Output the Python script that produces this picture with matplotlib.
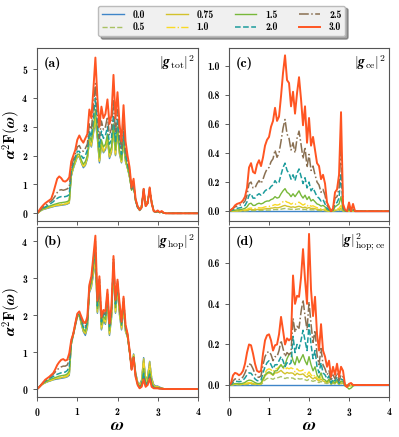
import numpy as np
import matplotlib
matplotlib.use("Agg")
import matplotlib.pyplot as plt

plt.rcParams["font.family"] = ["cmb10", "DejaVu Serif"]
plt.rcParams["mathtext.fontset"] = "cm"
plt.rcParams["axes.unicode_minus"] = False
plt.rcParams["axes.formatter.use_mathtext"] = True

# frequency grid (0 .. 3.25 step 0.05, then 4.0)
omega = [round(0.05 * i, 2) for i in range(66)] + [4.0]

lambdas = ["0.0", "0.5", "0.75", "1.0", "1.5", "2.0", "2.5", "3.0"]

# ---- (a) |g_tot|^2 ----
tot_00 = [0, 0.05, 0.1, 0.13, 0.15, 0.17, 0.19, 0.21, 0.23, 0.25, 0.26,
          0.27, 0.28, 0.29, 0.3, 0.32, 0.36, 1.28, 1.55, 1.75, 1.95, 1.96,
          1.75, 1.58, 1.66, 1.88, 2.5, 2.3, 2.75, 3.2, 2.58, 1.75, 2.35,
          2.1, 2.2, 2.55, 1.9, 2.1, 2.9, 2.0, 2.8, 2.05, 1.75, 2.45,
          1.78, 1.55, 1.25, 0.85, 0.97, 0.48, 0.25, 0.15, 0.28, 0.76, 0.34,
          0.44, 0.74, 0.42, 0.1, 0.05, 0.06, 0.03, 0.04, 0.01, 0, 0, 0]
tot_05 = [0, 0.05, 0.1, 0.13, 0.16, 0.18, 0.2, 0.22, 0.24, 0.26, 0.27,
          0.28, 0.29, 0.3, 0.31, 0.33, 0.37, 1.3, 1.56, 1.76, 1.96, 1.97,
          1.76, 1.6, 1.68, 1.9, 2.52, 2.32, 2.8, 3.25, 2.6, 1.78, 2.38,
          2.12, 2.22, 2.58, 1.92, 2.12, 2.92, 2.02, 2.82, 2.08, 1.76, 2.48,
          1.8, 1.55, 1.25, 0.83, 0.96, 0.47, 0.24, 0.14, 0.27, 0.77, 0.33,
          0.43, 0.75, 0.41, 0.1, 0.05, 0.06, 0.03, 0.04, 0.01, 0, 0, 0]
tot_075 = [0, 0.05, 0.1, 0.14, 0.17, 0.19, 0.21, 0.23, 0.25, 0.27, 0.28,
           0.29, 0.3, 0.31, 0.32, 0.34, 0.38, 1.32, 1.58, 1.78, 1.98, 1.98,
           1.78, 1.62, 1.7, 1.92, 2.55, 2.35, 2.85, 3.3, 2.65, 1.8, 2.4,
           2.15, 2.25, 2.6, 1.95, 2.15, 2.95, 2.05, 2.85, 2.1, 1.78, 2.5,
           1.82, 1.56, 1.26, 0.82, 0.95, 0.46, 0.23, 0.13, 0.26, 0.78, 0.32,
           0.42, 0.76, 0.4, 0.09, 0.04, 0.06, 0.03, 0.04, 0.01, 0, 0, 0]
tot_10 = [0, 0.05, 0.11, 0.15, 0.18, 0.2, 0.22, 0.24, 0.26, 0.28, 0.3,
          0.31, 0.32, 0.33, 0.34, 0.36, 0.4, 1.35, 1.6, 1.8, 2.0, 2.0,
          1.8, 1.65, 1.72, 1.95, 2.6, 2.4, 2.9, 3.4, 2.7, 1.85, 2.45,
          2.2, 2.3, 2.65, 2.0, 2.2, 3.0, 2.1, 2.9, 2.15, 1.8, 2.55,
          1.85, 1.58, 1.28, 0.82, 0.95, 0.45, 0.22, 0.12, 0.25, 0.8, 0.3,
          0.4, 0.78, 0.38, 0.08, 0.04, 0.06, 0.03, 0.04, 0.01, 0, 0, 0]
tot_15 = [0, 0.06, 0.12, 0.16, 0.19, 0.22, 0.25, 0.27, 0.3, 0.32, 0.34,
          0.36, 0.37, 0.38, 0.39, 0.41, 0.45, 1.4, 1.65, 1.85, 2.05, 2.05,
          1.85, 1.7, 1.8, 2.0, 2.7, 2.5, 3.0, 3.6, 2.8, 1.95, 2.55,
          2.3, 2.4, 2.75, 2.1, 2.3, 3.1, 2.2, 3.0, 2.2, 1.85, 2.6,
          1.9, 1.6, 1.3, 0.8, 0.95, 0.42, 0.2, 0.1, 0.2, 0.82, 0.25,
          0.35, 0.8, 0.35, 0.07, 0.04, 0.06, 0.03, 0.04, 0.01, 0, 0, 0]
tot_20 = [0, 0.07, 0.13, 0.18, 0.22, 0.26, 0.3, 0.35, 0.4, 0.47, 0.52,
          0.56, 0.58, 0.57, 0.58, 0.6, 0.65, 1.5, 1.75, 1.95, 2.15, 2.15,
          2.0, 1.9, 2.0, 2.2, 2.85, 2.65, 3.3, 4.0, 3.1, 2.3, 2.85,
          2.6, 2.7, 3.0, 2.4, 2.6, 3.4, 2.5, 3.3, 2.45, 2.05, 2.8,
          2.05, 1.7, 1.4, 0.85, 1.0, 0.45, 0.2, 0.1, 0.2, 0.85, 0.25,
          0.35, 0.85, 0.35, 0.07, 0.04, 0.07, 0.03, 0.05, 0.02, 0, 0, 0]
tot_25 = [0, 0.08, 0.15, 0.22, 0.27, 0.32, 0.38, 0.42, 0.5, 0.6, 0.72,
          0.8, 0.82, 0.8, 0.82, 0.85, 0.9, 1.6, 1.85, 2.05, 2.3, 2.35,
          2.2, 2.15, 2.25, 2.4, 3.1, 2.9, 3.7, 4.5, 3.4, 2.6, 3.2,
          2.9, 3.0, 3.35, 2.7, 2.95, 3.9, 2.8, 3.6, 2.7, 2.2, 3.1,
          2.2, 1.8, 1.5, 0.85, 1.05, 0.45, 0.22, 0.1, 0.2, 0.85, 0.25,
          0.35, 0.88, 0.35, 0.07, 0.04, 0.08, 0.03, 0.06, 0.02, 0, 0, 0]
tot_30 = [0, 0.1, 0.2, 0.28, 0.35, 0.4, 0.45, 0.5, 0.7, 0.95, 1.2,
          1.28, 1.22, 1.12, 1.1, 1.15, 1.25, 1.8, 2.0, 2.2, 2.55, 2.7,
          2.55, 2.45, 2.6, 2.75, 3.6, 3.3, 4.3, 5.4, 4.0, 3.0, 3.7,
          3.3, 3.45, 3.95, 3.1, 3.4, 4.8, 3.3, 4.2, 3.1, 2.5, 3.75,
          2.5, 2.0, 1.6, 0.9, 1.2, 0.5, 0.25, 0.12, 0.2, 0.85, 0.25,
          0.35, 0.9, 0.35, 0.08, 0.05, 0.1, 0.04, 0.08, 0.02, 0, 0, 0]

# ---- (b) |g_hop|^2 ----
hop_00 = [0, 0.05, 0.1, 0.14, 0.17, 0.19, 0.21, 0.23, 0.25, 0.26, 0.27,
          0.28, 0.29, 0.3, 0.31, 0.33, 0.37, 1.2, 1.45, 1.7, 1.95, 1.98,
          1.75, 1.55, 1.45, 1.65, 2.6, 2.75, 3.1, 3.45, 2.05, 2.7, 1.6,
          1.85, 1.75, 2.35, 1.45, 1.9, 3.2, 2.05, 2.7, 2.0, 1.6, 2.2,
          1.55, 1.4, 1.0, 0.6, 0.95, 0.45, 0.2, 0.12, 0.25, 0.85, 0.25,
          0.35, 0.75, 0.3, 0.12, 0.08, 0.08, 0.05, 0.03, 0.01, 0, 0, 0]
hop_05 = [0, 0.05, 0.1, 0.14, 0.17, 0.19, 0.21, 0.23, 0.25, 0.27, 0.28,
          0.29, 0.3, 0.31, 0.32, 0.34, 0.38, 1.21, 1.46, 1.71, 1.95, 1.99,
          1.76, 1.56, 1.47, 1.67, 2.62, 2.77, 3.12, 3.5, 2.07, 2.72, 1.62,
          1.87, 1.77, 2.37, 1.47, 1.92, 3.22, 2.07, 2.72, 2.02, 1.62, 2.22,
          1.56, 1.4, 1.0, 0.6, 0.94, 0.44, 0.19, 0.11, 0.24, 0.83, 0.24,
          0.34, 0.74, 0.29, 0.11, 0.07, 0.07, 0.05, 0.03, 0.01, 0, 0, 0]
hop_075 = [0, 0.05, 0.1, 0.14, 0.17, 0.2, 0.22, 0.24, 0.26, 0.28, 0.29,
           0.3, 0.31, 0.32, 0.33, 0.35, 0.4, 1.22, 1.47, 1.72, 1.96, 2.0,
           1.77, 1.58, 1.5, 1.7, 2.64, 2.8, 3.15, 3.55, 2.1, 2.75, 1.65,
           1.9, 1.8, 2.4, 1.5, 1.95, 3.25, 2.1, 2.75, 2.05, 1.65, 2.25,
           1.58, 1.4, 1.0, 0.58, 0.92, 0.42, 0.18, 0.1, 0.22, 0.8, 0.22,
           0.32, 0.72, 0.27, 0.1, 0.06, 0.06, 0.04, 0.02, 0.01, 0, 0, 0]
hop_10 = [0, 0.05, 0.11, 0.15, 0.18, 0.21, 0.23, 0.25, 0.27, 0.29, 0.31,
          0.32, 0.33, 0.34, 0.35, 0.37, 0.43, 1.23, 1.47, 1.73, 1.97, 2.01,
          1.78, 1.6, 1.52, 1.73, 2.66, 2.83, 3.2, 3.6, 2.12, 2.78, 1.68,
          1.93, 1.83, 2.43, 1.53, 1.98, 3.3, 2.13, 2.78, 2.08, 1.68, 2.28,
          1.6, 1.4, 1.0, 0.56, 0.9, 0.4, 0.17, 0.08, 0.18, 0.7, 0.18,
          0.28, 0.62, 0.22, 0.08, 0.05, 0.05, 0.03, 0.02, 0.01, 0, 0, 0]
hop_15 = [0, 0.05, 0.11, 0.16, 0.19, 0.22, 0.25, 0.27, 0.29, 0.31, 0.33,
          0.35, 0.36, 0.37, 0.38, 0.41, 0.48, 1.25, 1.48, 1.74, 1.98, 2.03,
          1.8, 1.63, 1.56, 1.77, 2.7, 2.88, 3.3, 3.7, 2.17, 2.83, 1.74,
          1.98, 1.88, 2.48, 1.58, 2.03, 3.35, 2.2, 2.82, 2.14, 1.72, 2.33,
          1.63, 1.42, 1.02, 0.55, 0.88, 0.38, 0.15, 0.06, 0.14, 0.55, 0.14,
          0.22, 0.5, 0.17, 0.06, 0.04, 0.04, 0.02, 0.01, 0.0, 0, 0, 0]
hop_20 = [0, 0.05, 0.12, 0.17, 0.21, 0.25, 0.28, 0.31, 0.34, 0.37, 0.4,
          0.42, 0.44, 0.45, 0.46, 0.5, 0.6, 1.27, 1.49, 1.75, 2.0, 2.05,
          1.85, 1.68, 1.62, 1.82, 2.74, 2.94, 3.4, 3.85, 2.25, 2.9, 1.82,
          2.04, 1.96, 2.56, 1.66, 2.1, 3.45, 2.3, 2.88, 2.22, 1.76, 2.4,
          1.68, 1.46, 1.04, 0.54, 0.86, 0.36, 0.13, 0.04, 0.1, 0.42, 0.1,
          0.17, 0.4, 0.12, 0.04, 0.03, 0.03, 0.02, 0.01, 0.0, 0, 0, 0]
hop_25 = [0, 0.05, 0.12, 0.18, 0.23, 0.27, 0.31, 0.35, 0.4, 0.46, 0.52,
          0.57, 0.6, 0.62, 0.62, 0.65, 0.78, 1.3, 1.5, 1.77, 2.02, 2.08,
          1.9, 1.75, 1.7, 1.88, 2.78, 3.0, 3.5, 4.0, 2.32, 2.97, 1.88,
          2.08, 2.03, 2.62, 1.72, 2.17, 3.52, 2.36, 2.92, 2.28, 1.8, 2.45,
          1.71, 1.48, 1.05, 0.53, 0.86, 0.34, 0.12, 0.03, 0.08, 0.33, 0.08,
          0.14, 0.33, 0.09, 0.03, 0.02, 0.02, 0.01, 0.01, 0.0, 0, 0, 0]
hop_30 = [0, 0.05, 0.11, 0.18, 0.25, 0.29, 0.33, 0.38, 0.43, 0.53, 0.65,
          0.73, 0.79, 0.81, 0.77, 0.79, 0.97, 1.33, 1.5, 1.78, 2.04, 2.1,
          1.96, 1.83, 1.78, 1.96, 2.82, 3.05, 3.6, 4.15, 2.4, 3.05, 1.96,
          2.14, 2.1, 2.69, 1.78, 2.24, 3.6, 2.42, 2.96, 2.33, 1.83, 2.5,
          1.74, 1.5, 1.06, 0.52, 0.85, 0.33, 0.11, 0.02, 0.06, 0.25, 0.06,
          0.11, 0.28, 0.06, 0.02, 0.02, 0.02, 0.01, 0.01, 0, 0, 0, 0]

# ---- (c) |g_ce|^2 ----
ce_00 = [0.0] * 67
ce_05 = [0, 0.0, 0.001, 0.001, 0.001, 0.001, 0.002, 0.002, 0.002, 0.003, 0.005,
         0.005, 0.004, 0.004, 0.005, 0.006, 0.005, 0.006, 0.007, 0.008, 0.008, 0.009,
         0.01, 0.012, 0.011, 0.012, 0.014, 0.017, 0.019, 0.016, 0.015, 0.013, 0.014,
         0.012, 0.014, 0.016, 0.013, 0.011, 0.013, 0.009, 0.012, 0.009, 0.01, 0.008,
         0.006, 0.005, 0.004, 0.005, 0.003, 0.001, 0.0, 0.0, 0.0, 0.003, 0.004,
         0.005, 0.01, 0.001, 0.0, 0.0, 0.001, 0.0, 0.001, 0.0, 0, 0, 0]
ce_075 = [0, 0.001, 0.001, 0.002, 0.002, 0.003, 0.003, 0.004, 0.005, 0.007, 0.011,
          0.012, 0.01, 0.01, 0.012, 0.013, 0.012, 0.014, 0.016, 0.018, 0.018, 0.021,
          0.022, 0.026, 0.023, 0.025, 0.03, 0.036, 0.04, 0.034, 0.032, 0.027, 0.03,
          0.026, 0.031, 0.034, 0.029, 0.023, 0.028, 0.02, 0.025, 0.019, 0.02, 0.017,
          0.013, 0.012, 0.009, 0.01, 0.007, 0.003, 0.001, 0.0, 0.001, 0.007, 0.008,
          0.011, 0.022, 0.003, 0.0, 0.0, 0.002, 0.0, 0.002, 0.0, 0, 0, 0]
ce_10 = [0, 0.001, 0.002, 0.003, 0.004, 0.005, 0.006, 0.007, 0.009, 0.013, 0.02,
         0.022, 0.018, 0.018, 0.022, 0.024, 0.022, 0.025, 0.03, 0.032, 0.033, 0.038,
         0.04, 0.046, 0.042, 0.045, 0.055, 0.065, 0.072, 0.062, 0.058, 0.048, 0.055,
         0.047, 0.056, 0.062, 0.052, 0.042, 0.05, 0.036, 0.045, 0.034, 0.037, 0.03,
         0.024, 0.022, 0.016, 0.018, 0.013, 0.005, 0.002, 0.0, 0.002, 0.012, 0.015,
         0.02, 0.04, 0.005, 0.0, 0.0, 0.004, 0.0, 0.004, 0.0, 0, 0, 0]
ce_15 = [0, 0.002, 0.005, 0.007, 0.009, 0.01, 0.012, 0.015, 0.02, 0.03, 0.05,
         0.055, 0.04, 0.04, 0.05, 0.055, 0.05, 0.055, 0.065, 0.07, 0.07, 0.08,
         0.085, 0.1, 0.09, 0.095, 0.12, 0.14, 0.155, 0.13, 0.12, 0.1, 0.12,
         0.1, 0.12, 0.14, 0.11, 0.09, 0.11, 0.08, 0.1, 0.07, 0.08, 0.065,
         0.05, 0.045, 0.035, 0.04, 0.03, 0.01, 0.005, 0.0, 0.005, 0.03, 0.04,
         0.05, 0.1, 0.01, 0.0, 0.0, 0.01, 0.0, 0.01, 0.0, 0, 0, 0]
ce_20 = [0, 0.005, 0.01, 0.015, 0.02, 0.022, 0.025, 0.03, 0.04, 0.065, 0.11,
         0.12, 0.09, 0.09, 0.11, 0.12, 0.11, 0.12, 0.14, 0.15, 0.15, 0.17,
         0.18, 0.21, 0.19, 0.2, 0.25, 0.3, 0.33, 0.28, 0.26, 0.22, 0.25,
         0.21, 0.26, 0.29, 0.24, 0.19, 0.23, 0.16, 0.2, 0.14, 0.16, 0.13,
         0.1, 0.09, 0.07, 0.08, 0.05, 0.02, 0.01, 0.0, 0.01, 0.05, 0.06,
         0.09, 0.26, 0.02, 0.005, 0.0, 0.02, 0.0, 0.015, 0.0, 0, 0, 0]
ce_25 = [0, 0.01, 0.02, 0.03, 0.035, 0.04, 0.045, 0.055, 0.07, 0.11, 0.19,
         0.2, 0.16, 0.16, 0.19, 0.21, 0.19, 0.22, 0.26, 0.29, 0.3, 0.34,
         0.36, 0.42, 0.37, 0.4, 0.48, 0.57, 0.63, 0.53, 0.5, 0.42, 0.47,
         0.4, 0.5, 0.55, 0.46, 0.36, 0.44, 0.3, 0.39, 0.28, 0.31, 0.25,
         0.2, 0.18, 0.13, 0.15, 0.11, 0.04, 0.02, 0.0, 0.015, 0.09, 0.1,
         0.16, 0.45, 0.03, 0.01, 0.0, 0.04, 0.0, 0.03, 0.0, 0, 0, 0]
ce_30 = [0, 0.01, 0.02, 0.04, 0.05, 0.055, 0.06, 0.075, 0.1, 0.16, 0.3,
         0.33, 0.27, 0.26, 0.32, 0.35, 0.31, 0.37, 0.45, 0.49, 0.51, 0.58,
         0.62, 0.71, 0.62, 0.65, 0.79, 0.95, 1.07, 0.9, 0.88, 0.72, 0.82,
         0.67, 0.81, 0.92, 0.77, 0.59, 0.72, 0.47, 0.64, 0.45, 0.51, 0.42,
         0.33, 0.31, 0.22, 0.25, 0.19, 0.06, 0.03, 0.0, 0.02, 0.13, 0.15,
         0.25, 0.68, 0.05, 0.01, 0.0, 0.06, 0.0, 0.05, 0.0, 0, 0, 0]

# ---- (d) |g|^2_hop;ce ----
hc_00 = [0.0] * 67
hc_05 = [0, 0.0, 0.001, 0.001, 0.001, 0.001, 0.001, 0.002, 0.002, 0.003, 0.004,
         0.004, 0.003, 0.002, 0.002, 0.002, 0.003, 0.012, 0.025, 0.032, 0.035, 0.032,
         0.028, 0.035, 0.035, 0.038, 0.042, 0.036, 0.032, 0.036, 0.034, 0.035, 0.034,
         0.028, 0.034, 0.03, 0.03, 0.032, 0.026, 0.022, 0.028, 0.022, 0.018, 0.022,
         0.016, 0.012, 0.018, 0.012, 0.01, 0.007, 0.012, 0.004, 0.009, 0.005, 0.009,
         0.004, 0.007, 0.005, 0.0, -0.001, -0.002, -0.001, 0.0, 0.0, 0, 0, 0]
hc_075 = [0, 0.0, 0.002, 0.003, 0.003, 0.003, 0.003, 0.004, 0.005, 0.007, 0.008,
          0.008, 0.007, 0.005, 0.004, 0.004, 0.006, 0.022, 0.045, 0.055, 0.06, 0.055,
          0.048, 0.06, 0.06, 0.065, 0.072, 0.062, 0.055, 0.062, 0.058, 0.06, 0.058,
          0.048, 0.058, 0.052, 0.052, 0.055, 0.045, 0.038, 0.048, 0.038, 0.03, 0.038,
          0.027, 0.02, 0.03, 0.02, 0.016, 0.012, 0.02, 0.006, 0.015, 0.008, 0.015,
          0.006, 0.012, 0.008, 0.0, -0.002, -0.003, -0.002, 0.0, 0.0, 0, 0, 0]
hc_10 = [0, 0.001, 0.003, 0.004, 0.004, 0.004, 0.004, 0.005, 0.007, 0.01, 0.012,
         0.012, 0.01, 0.007, 0.005, 0.005, 0.008, 0.03, 0.06, 0.075, 0.08, 0.075,
         0.065, 0.08, 0.08, 0.09, 0.1, 0.085, 0.075, 0.085, 0.08, 0.085, 0.08,
         0.065, 0.08, 0.07, 0.07, 0.075, 0.06, 0.05, 0.065, 0.05, 0.04, 0.05,
         0.035, 0.025, 0.04, 0.025, 0.02, 0.015, 0.025, 0.008, 0.02, 0.01, 0.02,
         0.008, 0.015, 0.01, 0.0, -0.003, -0.005, -0.003, 0.0, 0.0, 0, 0, 0]
hc_15 = [0, 0.001, 0.005, 0.007, 0.007, 0.006, 0.007, 0.009, 0.013, 0.02, 0.024,
         0.023, 0.018, 0.012, 0.008, 0.007, 0.01, 0.03, 0.05, 0.06, 0.065, 0.06,
         0.05, 0.07, 0.07, 0.085, 0.1, 0.085, 0.1, 0.13, 0.15, 0.16, 0.12,
         0.1, 0.14, 0.11, 0.13, 0.15, 0.12, 0.1, 0.14, 0.1, 0.07, 0.09,
         0.05, 0.035, 0.06, 0.03, 0.025, 0.015, 0.03, 0.005, 0.02, 0.01, 0.025,
         0.005, 0.02, 0.015, -0.005, -0.01, -0.02, -0.015, -0.005, 0.0, 0, 0, 0]
hc_20 = [0, 0.003, 0.012, 0.018, 0.018, 0.016, 0.018, 0.024, 0.035, 0.05, 0.06,
         0.058, 0.045, 0.03, 0.022, 0.02, 0.025, 0.06, 0.09, 0.11, 0.12, 0.1,
         0.08, 0.1, 0.1, 0.12, 0.14, 0.12, 0.09, 0.11, 0.1, 0.11, 0.24,
         0.16, 0.2, 0.18, 0.22, 0.27, 0.22, 0.17, 0.3, 0.2, 0.13, 0.17,
         0.09, 0.06, 0.11, 0.06, 0.05, 0.03, 0.045, 0.01, 0.03, 0.02, 0.04,
         0.01, 0.03, 0.025, 0.0, -0.005, 0.0, 0.003, 0.0, 0.0, 0, 0, 0]
hc_25 = [0, 0.005, 0.02, 0.03, 0.03, 0.027, 0.03, 0.04, 0.06, 0.085, 0.105,
         0.1, 0.08, 0.055, 0.04, 0.038, 0.045, 0.1, 0.14, 0.16, 0.165, 0.15,
         0.12, 0.14, 0.14, 0.17, 0.22, 0.18, 0.14, 0.16, 0.15, 0.16, 0.33,
         0.26, 0.29, 0.28, 0.36, 0.42, 0.34, 0.27, 0.41, 0.3, 0.21, 0.27,
         0.15, 0.1, 0.18, 0.1, 0.08, 0.05, 0.07, 0.02, 0.05, 0.03, 0.06,
         0.02, 0.05, 0.04, 0.0, -0.005, 0.003, 0.005, 0.0, 0.0, 0, 0, 0]
hc_30 = [0, 0.01, 0.048, 0.06, 0.056, 0.048, 0.055, 0.07, 0.105, 0.16, 0.2,
         0.196, 0.155, 0.105, 0.07, 0.064, 0.07, 0.155, 0.22, 0.245, 0.25, 0.22,
         0.17, 0.196, 0.2, 0.25, 0.336, 0.27, 0.2, 0.23, 0.22, 0.23, 0.54,
         0.4, 0.44, 0.435, 0.53, 0.67, 0.52, 0.4, 0.745, 0.47, 0.34, 0.435,
         0.25, 0.17, 0.3, 0.17, 0.14, 0.09, 0.12, 0.04, 0.09, 0.05, 0.105,
         0.04, 0.09, 0.07, 0.0, -0.01, 0.006, 0.01, 0.0, 0.0, 0, 0, 0]

panels = [
    [tot_00, tot_05, tot_075, tot_10, tot_15, tot_20, tot_25, tot_30],
    [ce_00, ce_05, ce_075, ce_10, ce_15, ce_20, ce_25, ce_30],
    [hop_00, hop_05, hop_075, hop_10, hop_15, hop_20, hop_25, hop_30],
    [hc_00, hc_05, hc_075, hc_10, hc_15, hc_20, hc_25, hc_30],
]

colors = ["#3f85c8", "#a9c264", "#d2c22c", "#f9d925",
          "#78b83a", "#1c9c9c", "#8a7052", "#ff5522"]
styles = ["-", "--", "-", "-.", "-", "--", "-.", "-"]
widths = [1.0, 1.0, 1.0, 1.0, 1.0, 1.1, 1.1, 1.4]

tags = ["(a)", "(c)", "(b)", "(d)"]
names = [r"$|\boldsymbol{g}_{\rm tot}|^2$", r"$|\boldsymbol{g}_{\rm ce}|^2$",
         r"$|\boldsymbol{g}_{\rm hop}|^2$", r"$|\boldsymbol{g}|^2_{\rm hop;ce}$"]
ylims = [(-0.27, 5.73), (-0.068, 1.12), (-0.21, 4.39), (-0.058, 0.78)]
yticks = [[0, 1, 2, 3, 4, 5], [0.0, 0.2, 0.4, 0.6, 0.8, 1.0],
          [0, 1, 2, 3, 4], [0.0, 0.2, 0.4, 0.6]]

fig = plt.figure(figsize=(3.99, 4.37), dpi=100)
boxes = [[0.093, 0.494, 0.403, 0.396], [0.574, 0.494, 0.401, 0.396],
         [0.093, 0.092, 0.403, 0.389], [0.574, 0.092, 0.401, 0.389]]

for k in range(4):
    ax = fig.add_axes(boxes[k])
    for j in range(8):
        ax.plot(omega, panels[k][j], color=colors[j], ls=styles[j],
                lw=widths[j], label=lambdas[j])
    ax.set_xlim(0, 4)
    ax.set_ylim(*ylims[k])
    ax.set_xticks([0, 1, 2, 3, 4])
    ax.set_yticks(yticks[k])
    if k in (1, 3):
        ax.set_yticklabels([f"{v:.1f}" for v in yticks[k]])
    ax.tick_params(labelsize=7, length=3, width=0.6, color="#444444")
    for s in ax.spines.values():
        s.set_color("#555555")
        s.set_linewidth(0.8)
    if k < 2:
        ax.set_xticklabels([])
    else:
        ax.set_xlabel(r"$\boldsymbol{\omega}$", fontsize=13, labelpad=0)
    if k in (0, 2):
        ax.set_ylabel(r"$\boldsymbol{\alpha}^{\mathbf{2}}\mathbf{F}(\boldsymbol{\omega})$",
                      fontsize=11)
        ax.yaxis.set_label_coords(-0.09, 0.5)
    ax.text(0.04, 0.95, tags[k], transform=ax.transAxes, fontsize=10,
            va="top", ha="left")
    ax.text(0.98, 0.97, names[k], transform=ax.transAxes, fontsize=10,
            va="top", ha="right")

handles, labels = fig.axes[0].get_legend_handles_labels()
leg = fig.legend(handles, labels,
                 loc="center", bbox_to_anchor=(0.556, 0.952), ncol=4,
                 fontsize=7, frameon=True, shadow=True, handlelength=2.2,
                 columnspacing=2.2, handletextpad=0.9, borderpad=0.4,
                 labelspacing=0.3, fancybox=True)
leg.get_frame().set_facecolor("#f0f0f0")
leg.get_frame().set_edgecolor("#bbbbbb")

fig.savefig("out.png", dpi=100)
